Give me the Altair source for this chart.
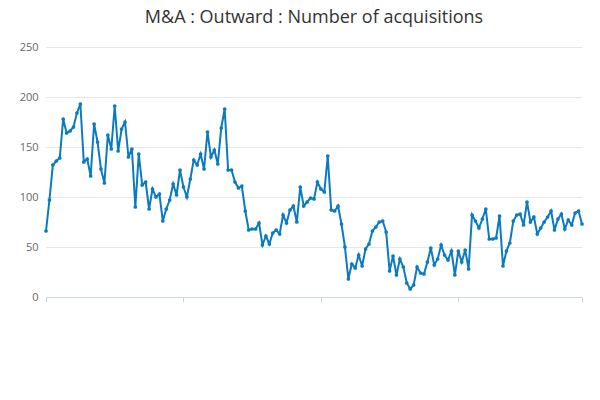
import altair as alt
import pandas as pd

values = [66, 97, 132, 136, 139, 178, 164, 166, 170, 184, 193, 135, 138, 121, 173, 155,
          128, 114, 162, 148, 191, 146, 168, 175, 140, 148, 90, 143, 112, 115, 88, 108,
          100, 103, 76, 88, 97, 113, 102, 127, 110, 100, 118, 137, 132, 143, 128, 165,
          140, 147, 133, 169, 188, 127, 127, 115, 109, 111, 86, 67, 68, 68, 74, 52,
          61, 53, 64, 67, 63, 82, 74, 87, 91, 75, 110, 91, 95, 99, 98, 115,
          108, 105, 141, 87, 86, 91, 73, 50, 18, 33, 29, 42, 31, 48, 53, 66,
          70, 75, 76, 65, 26, 41, 22, 38, 30, 14, 8, 12, 30, 24, 23, 35,
          49, 32, 38, 52, 42, 37, 46, 22, 46, 35, 47, 28, 82, 76, 69, 78,
          88, 58, 58, 59, 81, 31, 46, 54, 76, 82, 83, 72, 95, 75, 80, 63,
          69, 75, 80, 86, 67, 78, 83, 68, 77, 72, 84, 86, 73]
labels = [f"{1987 + i // 4} Q{i % 4 + 1}" for i in range(len(values))]
series = "M&A : Outward : Number of acquisitions"
df = pd.DataFrame({"i": range(len(values)), "q": labels, "v": values, "s": series})

tick_idx = [0, 40, 80, 120, 156]
label_expr = "{" + ",".join(f"'{k}':'{labels[k]}'" for k in tick_idx) + "}[datum.value]"

line = alt.Chart(df).mark_line(point=alt.OverlayMarkDef(size=14, filled=True), strokeWidth=2).encode(
    x=alt.X("i:Q", title=None, scale=alt.Scale(domain=[0, 156], nice=False),
            axis=alt.Axis(values=tick_idx, labelExpr=label_expr, labelAngle=-45, grid=False,
                          labelColor="#666", labelFontSize=11, domainColor="#ccd6eb",
                          tickColor="#ccd6eb", labelAlign="right", labelBaseline="top")),
    y=alt.Y("v:Q", title=None, scale=alt.Scale(domain=[0, 250]),
            axis=alt.Axis(values=[0, 50, 100, 150, 200, 250], domain=False, ticks=False,
                          labelColor="#666", labelFontSize=11, gridColor="#e6e6e6", labelPadding=8)),
    color=alt.Color("s:N", scale=alt.Scale(range=["#0a7bc1"]),
                    legend=alt.Legend(title=None, orient="none", legendX=100, legendY=318,
                                      labelFontSize=12,
                                      labelFontWeight="bold", labelColor="#333", symbolType="stroke",
                                      symbolStrokeWidth=2, symbolSize=200, labelLimit=400)),
    tooltip=["q", "v"],
)

src = alt.Chart(pd.DataFrame({"t": ["Source:"]})).mark_text(
    align="right", fontSize=12, color="#666", font="Open Sans").encode(
    x=alt.value(544), y=alt.value(340), text="t:N")

chart = alt.layer(line, src).properties(
    width=536, height=250,
    autosize=alt.AutoSizeParams(type="none"),
    padding={"left": 38, "top": 39, "right": 10, "bottom": 10},
    title=alt.Title("M&A : Outward : Number of acquisitions", fontSize=18, fontWeight="normal",
                    color="#333", font="Open Sans", offset=14),
).configure(font="Open Sans").configure_view(stroke=None)

chart.save("out.html", embed_options={"renderer": "svg", "actions": False})
